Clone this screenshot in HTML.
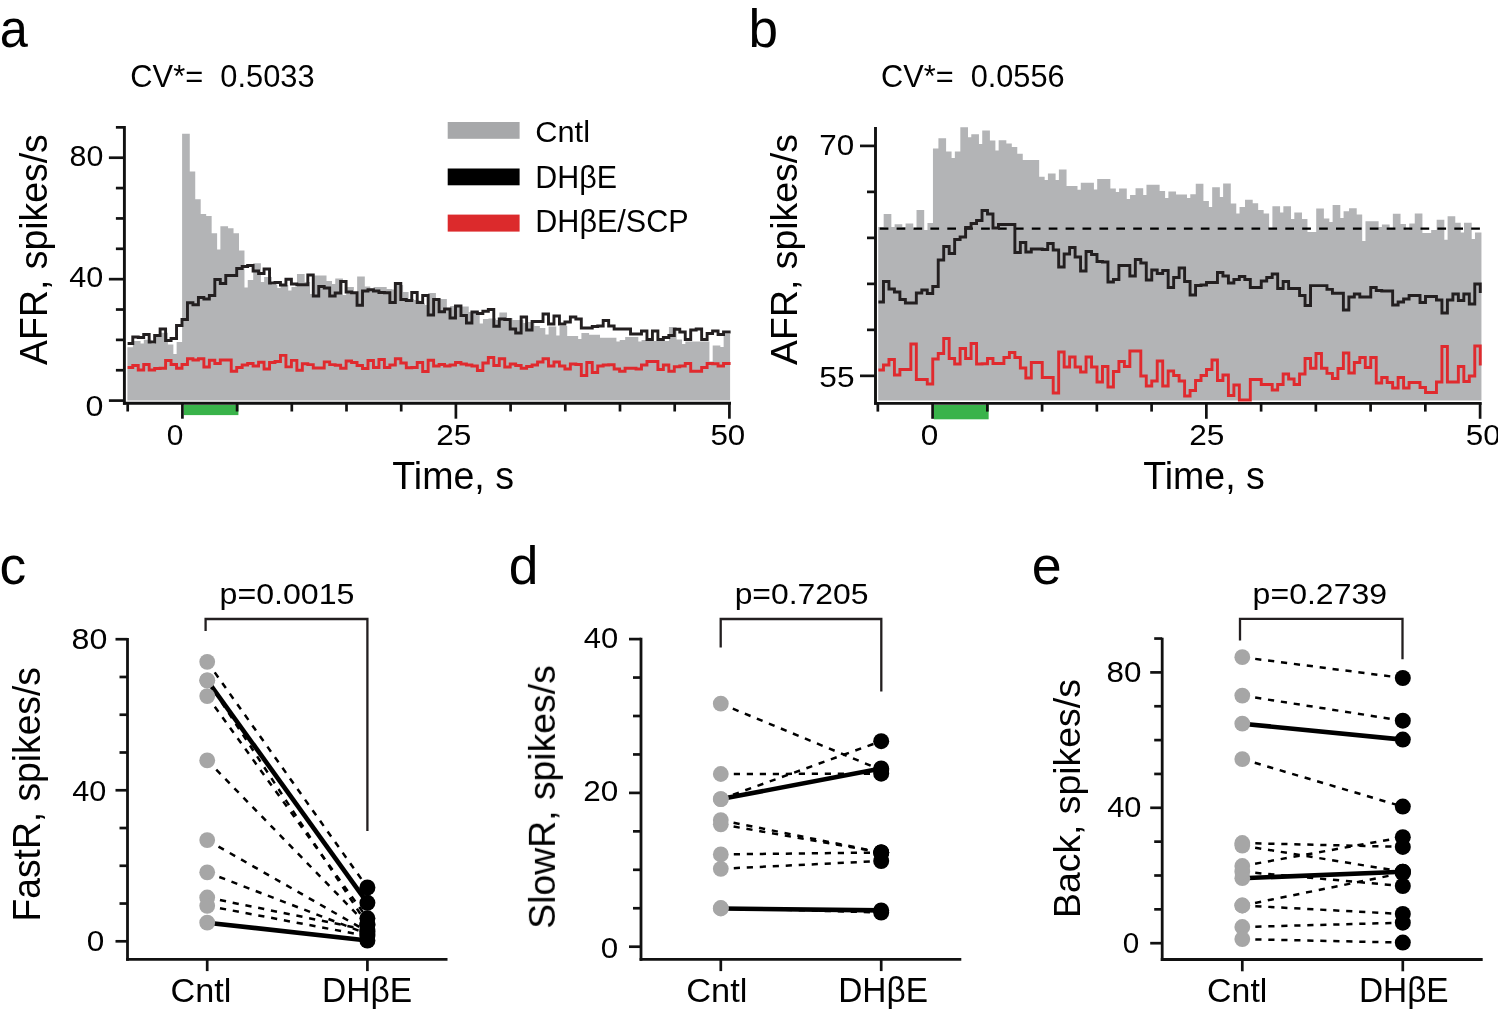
<!DOCTYPE html><html><head><meta charset="utf-8"><style>html,body{margin:0;padding:0;background:#fff;width:1498px;height:1012px;overflow:hidden}body{position:relative}</style></head><body><svg width="1498" height="1012" viewBox="0 0 1498 1012" style="position:absolute;left:0;top:0">
<g font-family='"Liberation Sans", sans-serif' fill="#000">
<path d="M127.40 400.60V347.30H132.87V341.00H135.07V341.00H138.34V341.00H140.54V343.50H143.81V339.80H146.01V339.80H149.28V339.80H151.48V344.00H154.75V337.00H156.95V337.00H160.22V332.80H162.42V332.80H165.69V332.80H167.89V344.50H171.16V344.50H173.36V354.00H176.63V342.00H178.83V342.00H182.10V133.80H184.30V133.80H187.57V133.80H189.77V171.50H193.04V171.50H195.24V199.30H198.51V199.30H200.71V214.00H203.98V214.00H206.18V216.00H209.45V216.00H211.65V233.30H214.92V233.30H217.12V249.50H220.39V226.30H222.59V226.30H225.86V226.30H228.06V228.20H231.33V228.20H233.53V233.30H236.80V233.30H239.00V250.50H242.27V250.50H244.47V287.50H247.74V280.00H249.94V280.00H253.21V263.30H255.41V263.30H258.68V263.30H260.88V282.00H264.15V277.00H266.35V277.00H269.62V277.00H271.82V285.00H275.09V285.00H277.29V288.00H280.56V285.00H282.76V285.00H286.03V285.00H288.23V290.50H291.50V287.00H293.70V287.00H296.97V274.00H299.17V274.00H302.44V274.00H304.64V282.00H307.91V282.00H310.11V294.00H313.38V275.50H315.58V275.50H318.85V275.50H321.05V275.50H324.32V275.50H326.52V281.00H329.79V281.00H331.99V284.00H335.26V278.50H337.46V278.50H340.73V278.50H342.93V295.00H346.20V287.00H348.40V287.00H351.67V287.00H353.87V293.00H357.14V276.50H359.34V276.50H362.61V276.50H364.81V286.50H368.08V286.50H370.28V288.80H373.55V287.00H375.75V287.00H379.02V287.00H381.22V287.00H384.49V287.00H386.69V289.00H389.96V289.00H392.16V289.50H395.43V285.00H397.63V285.00H400.90V285.00H403.10V292.00H406.37V292.00H408.57V299.00H411.84V299.00H414.04V300.00H417.31V300.00H419.51V303.50H422.78V303.50H424.98V305.00H428.25V293.00H430.45V293.00H433.72V293.00H435.92V300.00H439.19V299.00H441.39V299.00H444.66V299.00H446.86V308.00H450.13V306.00H452.33V306.00H455.60V306.00H457.80V307.00H461.07V306.50H463.27V306.50H466.54V306.50H468.74V312.00H472.01V312.00H474.21V313.00H477.48V313.00H479.68V323.50H482.95V319.00H485.15V319.00H488.42V318.50H490.62V318.50H493.89V318.50H496.09V320.00H499.36V312.50H501.56V312.50H504.83V312.50H507.03V318.00H510.30V318.00H512.50V320.00H515.77V320.00H517.97V320.00H521.24V320.00H523.44V323.00H526.71V322.00H528.91V322.00H532.18V322.00H534.38V326.00H537.65V326.00H539.85V328.00H543.12V328.00H545.32V334.50H548.59V326.50H550.79V326.50H554.06V326.50H556.26V335.50H559.53V326.00H561.73V326.00H565.00V326.00H567.20V336.00H570.47V336.00H572.67V336.00H575.94V336.00H578.14V339.00H581.41V333.00H583.61V333.00H586.88V333.00H589.08V334.80H592.35V334.80H594.55V334.80H597.82V334.80H600.02V337.80H603.29V337.80H605.49V337.80H608.76V337.80H610.96V337.80H614.23V337.80H616.43V341.50H619.70V340.00H621.90V340.00H625.17V337.00H627.37V337.00H630.64V337.00H632.84V337.00H636.11V337.00H638.31V341.50H641.58V340.00H643.78V340.00H647.05V340.00H649.25V341.00H652.52V341.00H654.72V341.00H657.99V341.00H660.19V341.00H663.46V341.00H665.66V341.00H668.93V327.00H671.13V327.00H674.40V327.00H676.60V339.50H679.87V339.50H682.07V344.00H685.34V341.50H687.54V341.50H690.81V341.50H693.01V341.50H696.28V341.50H698.48V341.50H701.75V341.50H703.95V341.50H707.22V341.50H709.42V361.50H712.69V345.50H714.89V345.50H718.16V345.50H720.36V347.00H723.63V334.00H725.83V334.00H729.10V334.00H730.10V400.60Z" fill="#b3b4b6" stroke="none"/>
<path d="M127.60 343.50H132.77V337.00H138.24V337.50H143.71V334.50H149.18V342.00H154.65V335.50H160.12V329.00H165.59V340.50H171.06V338.50H176.53V325.50H182.00V319.50H187.47V302.80H192.94V304.80H198.41V297.50H203.88V299.00H209.35V295.50H214.82V279.50H220.29V283.50H225.76V275.50H231.23V275.50H236.70V268.50H242.17V266.50H247.64V265.50H253.11V271.00H258.58V273.50H264.05V269.00H269.52V283.00H274.99V282.50H280.46V285.00H285.93V279.20H291.40V284.00H296.87V284.70H302.34V284.70H307.81V275.00H313.28V296.00H318.75V286.50H324.22V288.00H329.69V296.00H335.16V293.00H340.63V281.50H346.10V292.00H351.57V292.80H357.04V305.20H362.51V291.00H367.98V289.80H373.45V291.00H378.92V292.50H384.39V292.70H389.86V302.50H395.33V283.50H400.80V299.50H406.27V300.50H411.74V292.50H417.21V302.50H422.68V295.50H428.15V315.00H433.62V299.50H439.09V311.80H444.56V309.00H450.03V318.00H455.50V306.00H460.97V315.50H466.44V323.00H471.91V312.00H477.38V313.50H482.85V311.20H488.32V309.50H493.79V326.20H499.26V319.00H504.73V319.50H510.20V329.00H515.67V333.00H521.14V317.00H526.61V330.00H532.08V321.50H537.55V321.50H543.02V314.00H548.49V324.00H553.96V316.00H559.43V324.00H564.90V322.00H570.37V317.00H575.84V319.00H581.31V328.00H586.78V328.00H592.25V326.50H597.72V326.00H603.19V320.50H608.66V326.00H614.13V329.00H619.60V329.00H625.07V329.00H630.54V334.00H636.01V334.00H641.48V331.00H646.95V339.50H652.42V331.00H657.89V339.50H663.36V337.50H668.83V335.50H674.30V329.30H679.77V332.00H685.24V339.50H690.71V330.00H696.18V329.00H701.65V339.50H707.12V333.50H712.59V331.00H718.06V334.50H723.53V332.00H730.60" fill="none" stroke="#231f20" stroke-width="2.9" stroke-linejoin="miter"/>
<path d="M127.60 367.50H132.77V365.50H138.24V370.00H143.71V364.50H149.18V370.00H154.65V368.50H160.12V368.20H165.59V360.50H171.06V364.50H176.53V368.20H182.00V364.50H187.47V358.80H192.94V360.00H198.41V358.80H203.88V367.00H209.35V360.20H214.82V363.50H220.29V360.00H225.76V360.00H231.23V371.20H236.70V367.50H242.17V365.00H247.64V363.50H253.11V366.00H258.58V362.20H264.05V369.00H269.52V362.50H274.99V361.50H280.46V355.40H285.93V366.90H291.40V360.40H296.87V370.30H302.34V363.80H307.81V364.60H313.28V368.00H318.75V368.00H324.22V361.90H329.69V364.60H335.16V365.30H340.63V368.20H346.10V361.00H351.57V362.50H357.04V365.50H362.51V368.50H367.98V360.50H373.45V367.50H378.92V359.50H384.39V367.50H389.86V365.00H395.33V358.70H400.80V363.00H406.27V367.80H411.74V367.50H417.21V362.50H422.68V371.50H428.15V360.20H433.62V366.00H439.09V364.50H444.56V366.00H450.03V365.00H455.50V362.50H460.97V364.00H466.44V365.00H471.91V366.00H477.38V370.50H482.85V363.00H488.32V357.50H493.79V365.50H499.26V358.80H504.73V367.00H510.20V364.00H515.67V365.50H521.14V368.20H526.61V366.50H532.08V365.00H537.55V362.00H543.02V358.80H548.49V366.00H553.96V362.00H559.43V366.00H564.90V369.00H570.37V364.00H575.84V364.50H581.31V375.50H586.78V362.50H592.25V372.50H597.72V366.00H603.19V365.00H608.66V364.80H614.13V369.00H619.60V371.20H625.07V368.20H630.54V368.20H636.01V369.00H641.48V365.00H646.95V361.50H652.42V361.50H657.89V369.50H663.36V365.00H668.83V371.20H674.30V366.80H679.77V366.00H685.24V363.50H690.71V371.20H696.18V371.20H701.65V367.50H707.12V363.50H712.59V363.80H718.06V366.00H723.53V363.50H730.60" fill="none" stroke="#e02a2e" stroke-width="2.9" stroke-linejoin="miter"/>
<rect x="183.70" y="404.90" width="54.70" height="10.2" fill="#39b34a"/>
<line x1="124.40" y1="126.00" x2="124.40" y2="404.75" stroke="#111111" stroke-width="2.9" />
<line x1="122.95" y1="403.30" x2="731.00" y2="403.30" stroke="#111111" stroke-width="2.9" />
<line x1="108.90" y1="400.60" x2="124.40" y2="400.60" stroke="#111111" stroke-width="2.7" />
<line x1="115.90" y1="370.24" x2="124.40" y2="370.24" stroke="#111111" stroke-width="2.7" />
<line x1="115.90" y1="339.88" x2="124.40" y2="339.88" stroke="#111111" stroke-width="2.7" />
<line x1="115.90" y1="309.52" x2="124.40" y2="309.52" stroke="#111111" stroke-width="2.7" />
<line x1="108.90" y1="279.16" x2="124.40" y2="279.16" stroke="#111111" stroke-width="2.7" />
<line x1="115.90" y1="248.80" x2="124.40" y2="248.80" stroke="#111111" stroke-width="2.7" />
<line x1="115.90" y1="218.44" x2="124.40" y2="218.44" stroke="#111111" stroke-width="2.7" />
<line x1="115.90" y1="188.08" x2="124.40" y2="188.08" stroke="#111111" stroke-width="2.7" />
<line x1="108.90" y1="157.72" x2="124.40" y2="157.72" stroke="#111111" stroke-width="2.7" />
<line x1="115.90" y1="127.36" x2="124.40" y2="127.36" stroke="#111111" stroke-width="2.7" />
<line x1="127.70" y1="403.30" x2="127.70" y2="411.50" stroke="#111111" stroke-width="2.7" />
<line x1="182.40" y1="403.30" x2="182.40" y2="418.70" stroke="#111111" stroke-width="2.7" />
<line x1="237.10" y1="403.30" x2="237.10" y2="411.50" stroke="#111111" stroke-width="2.7" />
<line x1="291.80" y1="403.30" x2="291.80" y2="411.50" stroke="#111111" stroke-width="2.7" />
<line x1="346.50" y1="403.30" x2="346.50" y2="411.50" stroke="#111111" stroke-width="2.7" />
<line x1="401.20" y1="403.30" x2="401.20" y2="411.50" stroke="#111111" stroke-width="2.7" />
<line x1="455.90" y1="403.30" x2="455.90" y2="418.70" stroke="#111111" stroke-width="2.7" />
<line x1="510.60" y1="403.30" x2="510.60" y2="411.50" stroke="#111111" stroke-width="2.7" />
<line x1="565.30" y1="403.30" x2="565.30" y2="411.50" stroke="#111111" stroke-width="2.7" />
<line x1="620.00" y1="403.30" x2="620.00" y2="411.50" stroke="#111111" stroke-width="2.7" />
<line x1="674.70" y1="403.30" x2="674.70" y2="411.50" stroke="#111111" stroke-width="2.7" />
<line x1="729.40" y1="403.30" x2="729.40" y2="418.70" stroke="#111111" stroke-width="2.7" />
<path d="M878.20 400.60V227.00H883.67V214.00H885.88V214.00H889.15V214.00H891.35V227.00H894.62V224.30H896.83V224.30H900.10V224.30H902.30V227.00H905.58V223.60H907.77V223.60H911.05V223.60H913.25V229.00H916.52V210.00H918.73V210.00H922.00V210.00H924.20V230.00H927.48V223.00H929.67V223.00H932.95V148.50H935.15V148.50H938.42V138.20H940.62V138.20H943.90V138.20H946.10V151.50H949.38V151.50H951.58V158.00H954.85V151.50H957.05V151.50H960.33V127.30H962.52V127.30H965.80V127.30H968.00V137.20H971.27V134.20H973.48V134.20H976.75V134.20H978.95V144.00H982.23V130.40H984.42V130.40H987.70V130.40H989.90V140.50H993.17V140.50H995.38V150.50H998.65V140.20H1000.85V140.20H1004.12V140.20H1006.33V143.50H1009.60V143.50H1011.80V147.00H1015.08V147.00H1017.27V153.80H1020.55V153.80H1022.75V160.00H1026.03V160.00H1028.22V160.00H1031.50V160.00H1033.70V160.00H1036.97V160.00H1039.17V176.80H1042.45V176.80H1044.65V180.00H1047.92V173.50H1050.12V173.50H1053.40V173.50H1055.60V180.00H1058.88V169.50H1061.08V169.50H1064.35V169.50H1066.55V186.00H1069.83V186.00H1072.03V186.00H1075.30V186.00H1077.50V189.80H1080.78V182.80H1082.97V182.80H1086.25V182.80H1088.45V182.80H1091.72V182.80H1093.92V189.50H1097.20V179.00H1099.40V179.00H1102.67V179.00H1104.88V179.00H1108.15V179.00H1110.35V188.50H1113.62V188.50H1115.83V192.00H1119.10V188.50H1121.30V188.50H1124.58V188.50H1126.78V199.00H1130.05V195.00H1132.25V195.00H1135.53V188.20H1137.72V188.20H1141.00V188.20H1143.20V195.00H1146.47V184.80H1148.67V184.80H1151.95V184.80H1154.15V184.80H1157.42V184.80H1159.62V191.00H1162.90V191.00H1165.10V198.00H1168.38V191.50H1170.58V191.50H1173.85V191.50H1176.05V194.50H1179.33V194.50H1181.53V194.50H1184.80V194.50H1187.00V198.00H1190.28V194.20H1192.47V194.20H1195.75V183.80H1197.95V183.80H1201.22V183.80H1203.42V201.00H1206.70V201.00H1208.90V207.00H1212.17V187.30H1214.38V187.30H1217.65V187.30H1219.85V197.00H1223.12V183.50H1225.33V183.50H1228.60V183.50H1230.80V203.50H1234.08V203.50H1236.28V213.50H1239.55V207.00H1241.75V207.00H1245.03V199.80H1247.22V199.80H1250.50V199.80H1252.70V203.20H1255.97V203.20H1258.17V210.00H1261.45V210.00H1263.65V213.50H1266.92V213.50H1269.12V228.50H1272.40V206.20H1274.60V206.20H1277.88V206.20H1280.08V212.50H1283.35V206.20H1285.55V206.20H1288.83V206.20H1291.03V219.00H1294.30V212.50H1296.50V212.50H1299.78V212.50H1301.97V219.00H1305.25V219.00H1307.45V232.00H1310.72V232.00H1312.92V232.00H1316.20V208.50H1318.40V208.50H1321.67V208.50H1323.88V218.50H1327.15V218.50H1329.35V222.00H1332.62V205.00H1334.83V205.00H1338.10V205.00H1340.30V218.00H1343.58V211.20H1345.78V211.20H1349.05V208.20H1351.25V208.20H1354.53V208.20H1356.72V214.50H1360.00V214.50H1362.20V241.00H1365.47V221.30H1367.67V221.30H1370.95V221.30H1373.15V221.30H1376.42V221.30H1378.62V227.00H1381.90V224.50H1384.10V224.50H1387.38V224.50H1389.58V229.00H1392.85V213.80H1395.05V213.80H1398.33V213.80H1400.53V224.00H1403.80V224.00H1406.00V230.00H1409.28V223.50H1411.47V223.50H1414.75V213.50H1416.95V213.50H1420.22V213.50H1422.42V233.00H1425.70V233.00H1427.90V233.00H1431.17V230.00H1433.38V230.00H1436.65V219.80H1438.85V219.80H1442.12V219.80H1444.33V239.80H1447.60V216.20H1449.80V216.20H1453.08V216.20H1455.28V222.80H1458.55V222.80H1460.75V232.50H1464.03V222.80H1466.22V222.80H1469.50V222.80H1471.70V239.00H1474.97V232.50H1477.17V232.50H1480.45V232.50H1481.45V400.60Z" fill="#b3b4b6" stroke="none"/>
<line x1="879.7" y1="228.6" x2="1480" y2="228.6" stroke="#000" stroke-width="2.4" stroke-dasharray="8.7 8.2"/>
<path d="M878.40 302.00H883.48V281.50H888.95V289.00H894.42V292.00H899.90V299.50H905.38V303.00H910.85V303.00H916.33V293.00H921.80V290.00H927.27V293.50H932.75V286.50H938.23V260.00H943.70V246.50H949.17V253.50H954.65V239.50H960.12V237.00H965.60V227.50H971.08V223.50H976.55V220.50H982.02V210.50H987.50V214.00H992.98V228.00H998.45V224.50H1003.92V224.50H1009.40V224.50H1014.88V252.50H1020.35V242.50H1025.83V252.00H1031.30V249.00H1036.77V249.00H1042.25V249.50H1047.72V243.50H1053.20V250.00H1058.67V267.00H1064.15V254.00H1069.62V247.50H1075.10V257.00H1080.58V271.00H1086.05V251.50H1091.52V254.50H1097.00V261.50H1102.47V262.00H1107.95V282.00H1113.42V279.50H1118.90V265.50H1124.38V265.50H1129.85V276.00H1135.33V259.50H1140.80V263.00H1146.27V280.00H1151.75V270.00H1157.22V273.50H1162.70V270.50H1168.17V287.50H1173.65V277.50H1179.12V268.00H1184.60V281.50H1190.08V295.00H1195.55V285.50H1201.02V285.00H1206.50V282.50H1211.97V282.50H1217.45V272.50H1222.92V276.00H1228.40V283.00H1233.88V279.50H1239.35V276.50H1244.83V279.50H1250.30V287.50H1255.77V287.50H1261.25V281.00H1266.72V277.50H1272.20V274.00H1277.67V288.50H1283.15V281.50H1288.62V288.50H1294.10V288.50H1299.58V295.50H1305.05V305.50H1310.52V285.60H1316.00V285.60H1321.47V285.60H1326.95V289.40H1332.42V293.20H1337.90V293.20H1343.38V310.00H1348.85V297.00H1354.33V294.00H1359.80V297.00H1365.27V297.00H1370.75V287.50H1376.22V290.50H1381.70V291.00H1387.17V291.00H1392.65V305.00H1398.12V302.00H1403.60V299.00H1409.08V295.50H1414.55V295.50H1420.02V302.50H1425.50V296.50H1430.97V296.50H1436.45V300.00H1441.92V313.00H1447.40V300.00H1452.88V294.00H1458.35V300.50H1463.83V294.00H1469.30V304.00H1474.77V284.00H1480.25V293" fill="none" stroke="#231f20" stroke-width="2.9" stroke-linejoin="miter"/>
<path d="M878.40 370.00H883.48V365.00H888.95V359.50H894.42V375.00H899.90V369.50H905.38V369.50H910.85V344.00H916.33V379.50H921.80V379.50H927.27V384.00H932.75V359.00H938.23V353.50H943.70V338.50H949.17V358.50H954.65V364.00H960.12V348.50H965.60V358.50H971.08V343.50H976.55V364.00H982.02V363.80H987.50V358.50H992.98V363.50H998.45V363.50H1003.92V357.50H1009.40V352.50H1014.88V357.50H1020.35V368.00H1025.83V378.00H1031.30V362.50H1036.77V362.50H1042.25V377.50H1047.72V377.50H1053.20V393.00H1058.67V352.00H1064.15V367.00H1069.62V357.00H1075.10V367.00H1080.58V372.00H1086.05V357.00H1091.52V367.00H1097.00V382.00H1102.47V366.50H1107.95V387.00H1113.42V371.50H1118.90V361.50H1124.38V366.50H1129.85V351.00H1135.33V351.00H1140.80V376.00H1146.27V386.00H1151.75V381.00H1157.22V361.00H1162.70V386.00H1168.17V371.00H1173.65V375.50H1179.12V381.00H1184.60V396.00H1190.08V390.50H1195.55V380.50H1201.02V375.50H1206.50V369.50H1211.97V360.00H1217.45V380.50H1222.92V375.00H1228.40V395.50H1233.88V385.00H1239.35V400.00H1244.83V400.00H1250.30V379.50H1255.77V379.50H1261.25V384.50H1266.72V384.50H1272.20V390.00H1277.67V384.50H1283.15V374.00H1288.62V379.00H1294.10V384.50H1299.58V374.00H1305.05V358.50H1310.52V368.30H1316.00V353.50H1321.47V368.30H1326.95V373.40H1332.42V378.50H1337.90V368.50H1343.38V353.00H1348.85V373.00H1354.33V362.50H1359.80V357.50H1365.27V367.50H1370.75V357.50H1376.22V383.00H1381.70V377.50H1387.17V382.50H1392.65V388.00H1398.12V377.50H1403.60V388.00H1409.08V382.50H1414.55V382.50H1420.02V387.50H1425.50V392.50H1430.97V392.50H1436.45V382.00H1441.92V346.50H1447.40V382.00H1452.88V382.00H1458.35V366.50H1463.83V381.50H1469.30V376.00H1474.77V346.00H1480.25V365.5" fill="none" stroke="#e02a2e" stroke-width="2.9" stroke-linejoin="miter"/>
<rect x="933.90" y="405.00" width="54.75" height="14.3" fill="#39b34a"/>
<line x1="875.50" y1="127.00" x2="875.50" y2="404.85" stroke="#111111" stroke-width="2.9" />
<line x1="874.05" y1="403.40" x2="1481.70" y2="403.40" stroke="#111111" stroke-width="2.9" />
<line x1="860.00" y1="375.85" x2="875.50" y2="375.85" stroke="#111111" stroke-width="2.7" />
<line x1="867.00" y1="329.86" x2="875.50" y2="329.86" stroke="#111111" stroke-width="2.7" />
<line x1="867.00" y1="283.87" x2="875.50" y2="283.87" stroke="#111111" stroke-width="2.7" />
<line x1="867.00" y1="237.88" x2="875.50" y2="237.88" stroke="#111111" stroke-width="2.7" />
<line x1="867.00" y1="191.89" x2="875.50" y2="191.89" stroke="#111111" stroke-width="2.7" />
<line x1="860.00" y1="145.90" x2="875.50" y2="145.90" stroke="#111111" stroke-width="2.7" />
<line x1="877.85" y1="403.40" x2="877.85" y2="411.60" stroke="#111111" stroke-width="2.7" />
<line x1="932.60" y1="403.40" x2="932.60" y2="418.80" stroke="#111111" stroke-width="2.7" />
<line x1="987.35" y1="403.40" x2="987.35" y2="411.60" stroke="#111111" stroke-width="2.7" />
<line x1="1042.10" y1="403.40" x2="1042.10" y2="411.60" stroke="#111111" stroke-width="2.7" />
<line x1="1096.85" y1="403.40" x2="1096.85" y2="411.60" stroke="#111111" stroke-width="2.7" />
<line x1="1151.60" y1="403.40" x2="1151.60" y2="411.60" stroke="#111111" stroke-width="2.7" />
<line x1="1206.35" y1="403.40" x2="1206.35" y2="418.80" stroke="#111111" stroke-width="2.7" />
<line x1="1261.10" y1="403.40" x2="1261.10" y2="411.60" stroke="#111111" stroke-width="2.7" />
<line x1="1315.85" y1="403.40" x2="1315.85" y2="411.60" stroke="#111111" stroke-width="2.7" />
<line x1="1370.60" y1="403.40" x2="1370.60" y2="411.60" stroke="#111111" stroke-width="2.7" />
<line x1="1425.35" y1="403.40" x2="1425.35" y2="411.60" stroke="#111111" stroke-width="2.7" />
<line x1="1480.10" y1="403.40" x2="1480.10" y2="418.80" stroke="#111111" stroke-width="2.7" />
<rect x="447.7" y="122" width="71.9" height="16.8" fill="#a7a8aa"/>
<rect x="447.7" y="168.5" width="71.9" height="16.8" fill="#000"/>
<rect x="447.7" y="214.6" width="71.9" height="17" fill="#dc2a2c"/>
<line x1="207.20" y1="680.30" x2="367.40" y2="902.80" stroke="#000" stroke-width="4.6" />
<line x1="207.20" y1="922.70" x2="367.40" y2="940.50" stroke="#000" stroke-width="4.6" />
<line x1="207.20" y1="661.80" x2="367.40" y2="887.50" stroke="#000" stroke-width="2.5" stroke-dasharray="6.2 6.8"/>
<line x1="207.20" y1="680.30" x2="367.40" y2="924.60" stroke="#000" stroke-width="2.5" stroke-dasharray="6.2 6.8"/>
<line x1="207.20" y1="696.10" x2="367.40" y2="918.30" stroke="#000" stroke-width="2.5" stroke-dasharray="6.2 6.8"/>
<line x1="207.20" y1="760.30" x2="367.40" y2="925.00" stroke="#000" stroke-width="2.5" stroke-dasharray="6.2 6.8"/>
<line x1="207.20" y1="840.10" x2="367.40" y2="931.50" stroke="#000" stroke-width="2.5" stroke-dasharray="6.2 6.8"/>
<line x1="207.20" y1="872.30" x2="367.40" y2="934.00" stroke="#000" stroke-width="2.5" stroke-dasharray="6.2 6.8"/>
<line x1="207.20" y1="897.50" x2="367.40" y2="930.00" stroke="#000" stroke-width="2.5" stroke-dasharray="6.2 6.8"/>
<line x1="207.20" y1="905.80" x2="367.40" y2="936.00" stroke="#000" stroke-width="2.5" stroke-dasharray="6.2 6.8"/>
<circle cx="207.2" cy="661.80" r="7.9" fill="#a6a6a6"/>
<circle cx="207.2" cy="680.30" r="7.9" fill="#a6a6a6"/>
<circle cx="207.2" cy="680.30" r="7.9" fill="#a6a6a6"/>
<circle cx="207.2" cy="696.10" r="7.9" fill="#a6a6a6"/>
<circle cx="207.2" cy="760.30" r="7.9" fill="#a6a6a6"/>
<circle cx="207.2" cy="840.10" r="7.9" fill="#a6a6a6"/>
<circle cx="207.2" cy="872.30" r="7.9" fill="#a6a6a6"/>
<circle cx="207.2" cy="897.50" r="7.9" fill="#a6a6a6"/>
<circle cx="207.2" cy="905.80" r="7.9" fill="#a6a6a6"/>
<circle cx="207.2" cy="922.70" r="7.9" fill="#a6a6a6"/>
<circle cx="367.4" cy="887.50" r="8.0" fill="#000"/>
<circle cx="367.4" cy="902.80" r="8.0" fill="#000"/>
<circle cx="367.4" cy="924.60" r="8.0" fill="#000"/>
<circle cx="367.4" cy="918.30" r="8.0" fill="#000"/>
<circle cx="367.4" cy="925.00" r="8.0" fill="#000"/>
<circle cx="367.4" cy="931.50" r="8.0" fill="#000"/>
<circle cx="367.4" cy="934.00" r="8.0" fill="#000"/>
<circle cx="367.4" cy="930.00" r="8.0" fill="#000"/>
<circle cx="367.4" cy="936.00" r="8.0" fill="#000"/>
<circle cx="367.4" cy="940.50" r="8.0" fill="#000"/>
<line x1="127.50" y1="638.00" x2="127.50" y2="960.70" stroke="#111111" stroke-width="2.8" />
<line x1="126.10" y1="959.30" x2="447.50" y2="959.30" stroke="#111111" stroke-width="2.8" />
<line x1="115.50" y1="941.30" x2="127.50" y2="941.30" stroke="#111111" stroke-width="2.7" />
<line x1="119.50" y1="903.54" x2="127.50" y2="903.54" stroke="#111111" stroke-width="2.7" />
<line x1="119.50" y1="865.78" x2="127.50" y2="865.78" stroke="#111111" stroke-width="2.7" />
<line x1="119.50" y1="828.02" x2="127.50" y2="828.02" stroke="#111111" stroke-width="2.7" />
<line x1="115.50" y1="790.26" x2="127.50" y2="790.26" stroke="#111111" stroke-width="2.7" />
<line x1="119.50" y1="752.50" x2="127.50" y2="752.50" stroke="#111111" stroke-width="2.7" />
<line x1="119.50" y1="714.74" x2="127.50" y2="714.74" stroke="#111111" stroke-width="2.7" />
<line x1="119.50" y1="676.98" x2="127.50" y2="676.98" stroke="#111111" stroke-width="2.7" />
<line x1="115.50" y1="639.22" x2="127.50" y2="639.22" stroke="#111111" stroke-width="2.7" />
<line x1="207.20" y1="959.30" x2="207.20" y2="971.10" stroke="#111111" stroke-width="2.7" />
<line x1="367.40" y1="959.30" x2="367.40" y2="971.10" stroke="#111111" stroke-width="2.7" />
<path d="M205.6 631 V619 H367.4 V831" fill="none" stroke="#231f20" stroke-width="2.3"/>
<line x1="720.80" y1="799.10" x2="881.20" y2="768.50" stroke="#000" stroke-width="4.6" />
<line x1="720.80" y1="908.50" x2="881.20" y2="910.40" stroke="#000" stroke-width="4.6" />
<line x1="720.80" y1="703.70" x2="881.20" y2="770.00" stroke="#000" stroke-width="2.5" stroke-dasharray="6.2 6.8"/>
<line x1="720.80" y1="774.00" x2="881.20" y2="773.70" stroke="#000" stroke-width="2.5" stroke-dasharray="6.2 6.8"/>
<line x1="720.80" y1="799.10" x2="881.20" y2="741.20" stroke="#000" stroke-width="2.5" stroke-dasharray="6.2 6.8"/>
<line x1="720.80" y1="820.10" x2="881.20" y2="852.50" stroke="#000" stroke-width="2.5" stroke-dasharray="6.2 6.8"/>
<line x1="720.80" y1="824.30" x2="881.20" y2="852.50" stroke="#000" stroke-width="2.5" stroke-dasharray="6.2 6.8"/>
<line x1="720.80" y1="854.40" x2="881.20" y2="852.50" stroke="#000" stroke-width="2.5" stroke-dasharray="6.2 6.8"/>
<line x1="720.80" y1="868.80" x2="881.20" y2="861.00" stroke="#000" stroke-width="2.5" stroke-dasharray="6.2 6.8"/>
<line x1="720.80" y1="908.00" x2="881.20" y2="912.50" stroke="#000" stroke-width="2.5" stroke-dasharray="6.2 6.8"/>
<circle cx="720.8" cy="703.70" r="7.9" fill="#a6a6a6"/>
<circle cx="720.8" cy="774.00" r="7.9" fill="#a6a6a6"/>
<circle cx="720.8" cy="799.10" r="7.9" fill="#a6a6a6"/>
<circle cx="720.8" cy="799.10" r="7.9" fill="#a6a6a6"/>
<circle cx="720.8" cy="820.10" r="7.9" fill="#a6a6a6"/>
<circle cx="720.8" cy="824.30" r="7.9" fill="#a6a6a6"/>
<circle cx="720.8" cy="854.40" r="7.9" fill="#a6a6a6"/>
<circle cx="720.8" cy="868.80" r="7.9" fill="#a6a6a6"/>
<circle cx="720.8" cy="908.00" r="7.9" fill="#a6a6a6"/>
<circle cx="720.8" cy="908.50" r="7.9" fill="#a6a6a6"/>
<circle cx="881.2" cy="770.00" r="8.0" fill="#000"/>
<circle cx="881.2" cy="773.70" r="8.0" fill="#000"/>
<circle cx="881.2" cy="741.20" r="8.0" fill="#000"/>
<circle cx="881.2" cy="768.50" r="8.0" fill="#000"/>
<circle cx="881.2" cy="852.50" r="8.0" fill="#000"/>
<circle cx="881.2" cy="852.50" r="8.0" fill="#000"/>
<circle cx="881.2" cy="852.50" r="8.0" fill="#000"/>
<circle cx="881.2" cy="861.00" r="8.0" fill="#000"/>
<circle cx="881.2" cy="912.50" r="8.0" fill="#000"/>
<circle cx="881.2" cy="910.40" r="8.0" fill="#000"/>
<line x1="641.00" y1="637.80" x2="641.00" y2="960.70" stroke="#111111" stroke-width="2.8" />
<line x1="639.60" y1="959.30" x2="961.30" y2="959.30" stroke="#111111" stroke-width="2.8" />
<line x1="629.00" y1="946.70" x2="641.00" y2="946.70" stroke="#111111" stroke-width="2.7" />
<line x1="633.00" y1="908.25" x2="641.00" y2="908.25" stroke="#111111" stroke-width="2.7" />
<line x1="633.00" y1="869.80" x2="641.00" y2="869.80" stroke="#111111" stroke-width="2.7" />
<line x1="633.00" y1="831.35" x2="641.00" y2="831.35" stroke="#111111" stroke-width="2.7" />
<line x1="629.00" y1="792.90" x2="641.00" y2="792.90" stroke="#111111" stroke-width="2.7" />
<line x1="633.00" y1="754.45" x2="641.00" y2="754.45" stroke="#111111" stroke-width="2.7" />
<line x1="633.00" y1="716.00" x2="641.00" y2="716.00" stroke="#111111" stroke-width="2.7" />
<line x1="633.00" y1="677.55" x2="641.00" y2="677.55" stroke="#111111" stroke-width="2.7" />
<line x1="629.00" y1="639.10" x2="641.00" y2="639.10" stroke="#111111" stroke-width="2.7" />
<line x1="720.80" y1="959.30" x2="720.80" y2="971.10" stroke="#111111" stroke-width="2.7" />
<line x1="881.20" y1="959.30" x2="881.20" y2="971.10" stroke="#111111" stroke-width="2.7" />
<path d="M720.7 647.4 V619 H881.3 V691.6" fill="none" stroke="#231f20" stroke-width="2.3"/>
<line x1="1242.30" y1="723.70" x2="1402.80" y2="739.60" stroke="#000" stroke-width="4.6" />
<line x1="1242.30" y1="878.20" x2="1402.80" y2="871.70" stroke="#000" stroke-width="4.6" />
<line x1="1242.30" y1="657.20" x2="1402.80" y2="678.00" stroke="#000" stroke-width="2.5" stroke-dasharray="6.2 6.8"/>
<line x1="1242.30" y1="695.60" x2="1402.80" y2="720.70" stroke="#000" stroke-width="2.5" stroke-dasharray="6.2 6.8"/>
<line x1="1242.30" y1="759.10" x2="1402.80" y2="806.60" stroke="#000" stroke-width="2.5" stroke-dasharray="6.2 6.8"/>
<line x1="1242.30" y1="843.00" x2="1402.80" y2="846.90" stroke="#000" stroke-width="2.5" stroke-dasharray="6.2 6.8"/>
<line x1="1242.30" y1="845.60" x2="1402.80" y2="871.70" stroke="#000" stroke-width="2.5" stroke-dasharray="6.2 6.8"/>
<line x1="1242.30" y1="866.00" x2="1402.80" y2="837.20" stroke="#000" stroke-width="2.5" stroke-dasharray="6.2 6.8"/>
<line x1="1242.30" y1="871.70" x2="1402.80" y2="886.00" stroke="#000" stroke-width="2.5" stroke-dasharray="6.2 6.8"/>
<line x1="1242.30" y1="905.50" x2="1402.80" y2="873.00" stroke="#000" stroke-width="2.5" stroke-dasharray="6.2 6.8"/>
<line x1="1242.30" y1="905.50" x2="1402.80" y2="914.00" stroke="#000" stroke-width="2.5" stroke-dasharray="6.2 6.8"/>
<line x1="1242.30" y1="927.00" x2="1402.80" y2="922.70" stroke="#000" stroke-width="2.5" stroke-dasharray="6.2 6.8"/>
<line x1="1242.30" y1="939.10" x2="1402.80" y2="942.60" stroke="#000" stroke-width="2.5" stroke-dasharray="6.2 6.8"/>
<circle cx="1242.3" cy="657.20" r="7.9" fill="#a6a6a6"/>
<circle cx="1242.3" cy="695.60" r="7.9" fill="#a6a6a6"/>
<circle cx="1242.3" cy="723.70" r="7.9" fill="#a6a6a6"/>
<circle cx="1242.3" cy="759.10" r="7.9" fill="#a6a6a6"/>
<circle cx="1242.3" cy="843.00" r="7.9" fill="#a6a6a6"/>
<circle cx="1242.3" cy="845.60" r="7.9" fill="#a6a6a6"/>
<circle cx="1242.3" cy="866.00" r="7.9" fill="#a6a6a6"/>
<circle cx="1242.3" cy="878.20" r="7.9" fill="#a6a6a6"/>
<circle cx="1242.3" cy="871.70" r="7.9" fill="#a6a6a6"/>
<circle cx="1242.3" cy="905.50" r="7.9" fill="#a6a6a6"/>
<circle cx="1242.3" cy="905.50" r="7.9" fill="#a6a6a6"/>
<circle cx="1242.3" cy="927.00" r="7.9" fill="#a6a6a6"/>
<circle cx="1242.3" cy="939.10" r="7.9" fill="#a6a6a6"/>
<circle cx="1402.8" cy="678.00" r="8.0" fill="#000"/>
<circle cx="1402.8" cy="720.70" r="8.0" fill="#000"/>
<circle cx="1402.8" cy="739.60" r="8.0" fill="#000"/>
<circle cx="1402.8" cy="806.60" r="8.0" fill="#000"/>
<circle cx="1402.8" cy="846.90" r="8.0" fill="#000"/>
<circle cx="1402.8" cy="871.70" r="8.0" fill="#000"/>
<circle cx="1402.8" cy="837.20" r="8.0" fill="#000"/>
<circle cx="1402.8" cy="871.70" r="8.0" fill="#000"/>
<circle cx="1402.8" cy="886.00" r="8.0" fill="#000"/>
<circle cx="1402.8" cy="873.00" r="8.0" fill="#000"/>
<circle cx="1402.8" cy="914.00" r="8.0" fill="#000"/>
<circle cx="1402.8" cy="922.70" r="8.0" fill="#000"/>
<circle cx="1402.8" cy="942.60" r="8.0" fill="#000"/>
<line x1="1162.20" y1="637.80" x2="1162.20" y2="960.90" stroke="#111111" stroke-width="2.8" />
<line x1="1160.80" y1="959.50" x2="1482.70" y2="959.50" stroke="#111111" stroke-width="2.8" />
<line x1="1150.20" y1="943.20" x2="1162.20" y2="943.20" stroke="#111111" stroke-width="2.7" />
<line x1="1154.20" y1="909.35" x2="1162.20" y2="909.35" stroke="#111111" stroke-width="2.7" />
<line x1="1154.20" y1="875.50" x2="1162.20" y2="875.50" stroke="#111111" stroke-width="2.7" />
<line x1="1154.20" y1="841.65" x2="1162.20" y2="841.65" stroke="#111111" stroke-width="2.7" />
<line x1="1150.20" y1="807.80" x2="1162.20" y2="807.80" stroke="#111111" stroke-width="2.7" />
<line x1="1154.20" y1="773.95" x2="1162.20" y2="773.95" stroke="#111111" stroke-width="2.7" />
<line x1="1154.20" y1="740.10" x2="1162.20" y2="740.10" stroke="#111111" stroke-width="2.7" />
<line x1="1154.20" y1="706.25" x2="1162.20" y2="706.25" stroke="#111111" stroke-width="2.7" />
<line x1="1150.20" y1="672.40" x2="1162.20" y2="672.40" stroke="#111111" stroke-width="2.7" />
<line x1="1154.20" y1="638.55" x2="1162.20" y2="638.55" stroke="#111111" stroke-width="2.7" />
<line x1="1242.30" y1="959.50" x2="1242.30" y2="971.30" stroke="#111111" stroke-width="2.7" />
<line x1="1402.80" y1="959.50" x2="1402.80" y2="971.30" stroke="#111111" stroke-width="2.7" />
<path d="M1240 640.6 V618.8 H1402.5 V659.2" fill="none" stroke="#231f20" stroke-width="2.3"/>
<g style="opacity:0.999">
<text transform="translate(-0.20,47.16) scale(0.9298,1)" font-size="54.36" xml:space="preserve">a</text>
<text transform="translate(748.55,47.17) scale(1.0061,1)" font-size="52.79" xml:space="preserve">b</text>
<text transform="translate(-0.42,584.21) scale(0.9838,1)" font-size="54.27" xml:space="preserve">c</text>
<text transform="translate(508.87,584.47) scale(1.0026,1)" font-size="53.20" xml:space="preserve">d</text>
<text transform="translate(1031.68,584.26) scale(0.9890,1)" font-size="54.36" xml:space="preserve">e</text>
<text transform="translate(130.36,86.69) scale(0.9861,1)" font-size="31.27" xml:space="preserve">CV*=&#160; 0.5033</text>
<text transform="translate(881.06,86.69) scale(0.9823,1)" font-size="31.27" xml:space="preserve">CV*=&#160; 0.0556</text>
<text transform="translate(69.53,165.61) scale(1.0323,1)" font-size="29.44" xml:space="preserve">80</text>
<text transform="translate(69.19,286.60) scale(1.0349,1)" font-size="29.58" xml:space="preserve">40</text>
<text transform="translate(85.61,415.51) scale(1.0995,1)" font-size="29.30" xml:space="preserve">0</text>
<text transform="translate(166.70,444.60) scale(1.0107,1)" font-size="29.58" xml:space="preserve">0</text>
<text transform="translate(436.32,444.70) scale(1.0657,1)" font-size="29.58" xml:space="preserve">25</text>
<text transform="translate(710.45,444.61) scale(1.0634,1)" font-size="29.44" xml:space="preserve">50</text>
<text transform="translate(392.26,488.90) scale(0.9560,1)" font-size="39.28" xml:space="preserve">Time, s</text>
<text transform="translate(1143.26,488.90) scale(0.9552,1)" font-size="39.28" xml:space="preserve">Time, s</text>
<text transform="translate(920.74,444.60) scale(1.0677,1)" font-size="29.58" xml:space="preserve">0</text>
<text transform="translate(1189.32,444.70) scale(1.0673,1)" font-size="29.58" xml:space="preserve">25</text>
<text transform="translate(1465.75,444.70) scale(1.0584,1)" font-size="29.58" xml:space="preserve">50</text>
<text transform="translate(819.33,154.70) scale(1.0571,1)" font-size="29.72" xml:space="preserve">70</text>
<text transform="translate(819.34,386.50) scale(1.0619,1)" font-size="29.71" xml:space="preserve">55</text>
<text transform="translate(535.26,141.60) scale(1.0238,1)" font-size="30.07" xml:space="preserve">Cntl</text>
<text transform="translate(535.37,187.60) scale(0.9714,1)" font-size="31.30" xml:space="preserve">DH&#946;E</text>
<text transform="translate(535.25,231.80) scale(0.9766,1)" font-size="31.30" xml:space="preserve">DH&#946;E/SCP</text>
<text transform="translate(219.61,603.51) scale(1.0966,1)" font-size="29.30" xml:space="preserve">p=0.0015</text>
<text transform="translate(734.63,603.51) scale(1.0883,1)" font-size="29.30" xml:space="preserve">p=0.7205</text>
<text transform="translate(1252.62,603.51) scale(1.0930,1)" font-size="29.30" xml:space="preserve">p=0.2739</text>
<text transform="translate(170.49,1001.57) scale(1.0479,1)" font-size="32.65" xml:space="preserve">Cntl</text>
<text transform="translate(322.11,1001.90) scale(0.9732,1)" font-size="34.49" xml:space="preserve">DH&#946;E</text>
<text transform="translate(686.18,1001.57) scale(1.0578,1)" font-size="32.52" xml:space="preserve">Cntl</text>
<text transform="translate(838.23,1001.90) scale(0.9686,1)" font-size="34.49" xml:space="preserve">DH&#946;E</text>
<text transform="translate(1207.11,1001.57) scale(1.0412,1)" font-size="32.52" xml:space="preserve">Cntl</text>
<text transform="translate(1358.93,1001.90) scale(0.9686,1)" font-size="34.49" xml:space="preserve">DH&#946;E</text>
<text transform="translate(71.50,648.70) scale(1.0830,1)" font-size="29.72" xml:space="preserve">80</text>
<text transform="translate(72.18,800.70) scale(1.0303,1)" font-size="29.72" xml:space="preserve">40</text>
<text transform="translate(86.74,950.60) scale(1.0626,1)" font-size="29.72" xml:space="preserve">0</text>
<text transform="translate(583.83,647.60) scale(1.0415,1)" font-size="29.72" xml:space="preserve">40</text>
<text transform="translate(583.22,800.61) scale(1.0705,1)" font-size="29.44" xml:space="preserve">20</text>
<text transform="translate(600.75,958.41) scale(1.0759,1)" font-size="29.15" xml:space="preserve">0</text>
<text transform="translate(1106.49,681.70) scale(1.0552,1)" font-size="29.72" xml:space="preserve">80</text>
<text transform="translate(1107.13,816.70) scale(1.0351,1)" font-size="29.72" xml:space="preserve">40</text>
<text transform="translate(1122.71,952.51) scale(1.0182,1)" font-size="29.15" xml:space="preserve">0</text>
<text transform="translate(47.00,364.89) rotate(-90) scale(0.9563,1)" font-size="39.13" xml:space="preserve">AFR, spikes/s</text>
<text transform="translate(797.00,364.89) rotate(-90) scale(0.9893,1)" font-size="37.83" xml:space="preserve">AFR, spikes/s</text>
<text transform="translate(39.90,921.48) rotate(-90) scale(0.9586,1)" font-size="38.84" xml:space="preserve">FastR, spikes/s</text>
<text transform="translate(554.90,928.78) rotate(-90) scale(0.9950,1)" font-size="37.54" xml:space="preserve">SlowR, spikes/s</text>
<text transform="translate(1080.00,917.99) rotate(-90) scale(0.9922,1)" font-size="37.68" xml:space="preserve">Back, spikes/s</text>
</g>
</g></svg></body></html>
